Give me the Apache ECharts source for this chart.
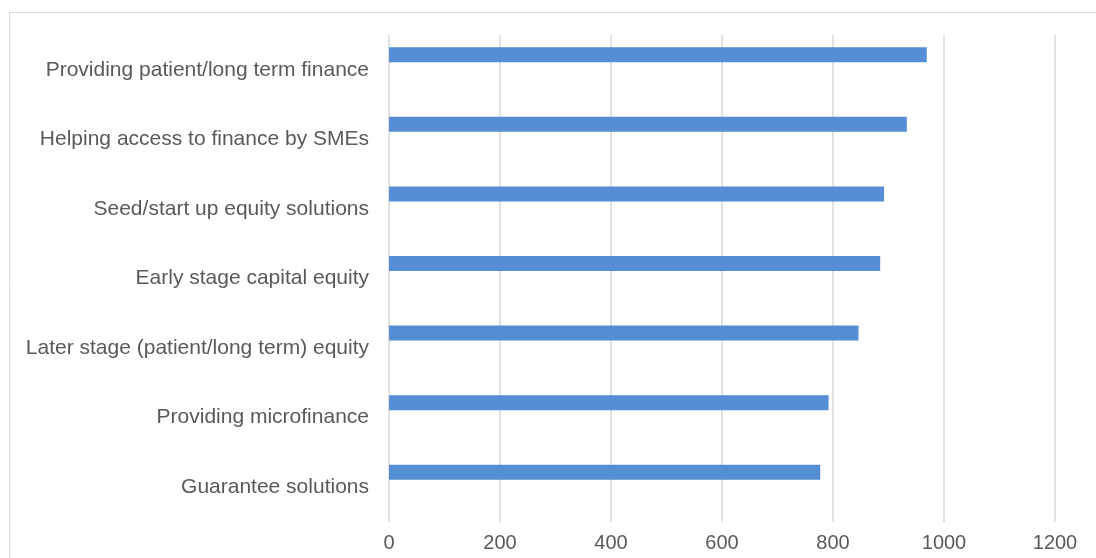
<!DOCTYPE html>
<html>
<head>
<meta charset="utf-8">
<script src="https://cdn.jsdelivr.net/npm/echarts@6/dist/echarts.min.js"></script>
<style>
  html, body { margin: 0; padding: 0; background: #fff; }
  #chart { width: 1096px; height: 558px; }
</style>
</head>
<body>
<div id="chart"></div>
<script>
// Instruments, listed top to bottom
const categories = [
  'Providing patient/long term finance',
  'Helping access to finance by SMEs',
  'Seed/start up equity solutions',
  'Early stage capital equity',
  'Later stage (patient/long term) equity',
  'Providing microfinance',
  'Guarantee solutions'
];
const scores = [969, 933, 892, 885, 846, 792, 777];
const axisTicks = [0, 200, 400, 600, 800, 1000, 1200];

const labelFont = 'Liberation Sans, Arial, sans-serif';
const chart = echarts.init(document.getElementById('chart'));

chart.setOption({
  animation: false,
  graphic: [{
    type: 'rect',
    shape: { x: 9.5, y: 12.5, width: 1100, height: 560 },
    style: { fill: 'none', stroke: '#d9d9d9', lineWidth: 1 },
    silent: true
  }],
  grid: { left: 389, right: 41, top: 35, bottom: 36 },
  xAxis: {
    type: 'value',
    min: axisTicks[0],
    max: axisTicks[axisTicks.length - 1],
    interval: axisTicks[1] - axisTicks[0],
    axisLine: { show: false },
    axisTick: { show: false },
    splitLine: { lineStyle: { color: '#d9d9d9', width: 1.5 } },
    axisLabel: {
      color: '#595959', fontSize: 20, fontFamily: labelFont, margin: 11,
      formatter: (v) => String(v)
    }
  },
  yAxis: {
    type: 'category',
    inverse: true,
    data: categories,
    axisLine: { show: false },
    axisTick: { show: false },
    axisLabel: { color: '#595959', fontSize: 21, fontFamily: labelFont, margin: 20 }
  },
  series: [
    {
      type: 'bar',
      data: scores,
      barWidth: 15,
      barGap: '100%',
      itemStyle: { color: '#558ED5' }
    },
    {
      type: 'bar',
      data: scores.map(() => '-'),
      barWidth: 15,
      itemStyle: { color: '#ED7D31' }
    }
  ]
});
</script>
</body>
</html>
